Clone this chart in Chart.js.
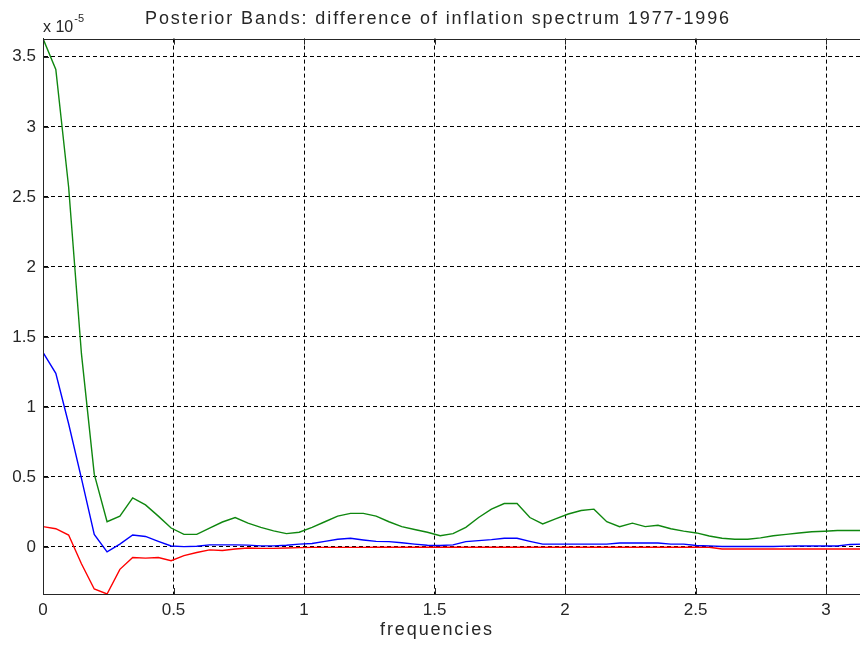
<!DOCTYPE html>
<html>
<head>
<meta charset="utf-8">
<title>Posterior Bands</title>
<script src="https://cdn.jsdelivr.net/npm/chart.js@4.4.1/dist/chart.umd.min.js"></script>
<style>
  html, body { margin: 0; padding: 0; background: #fff; overflow: hidden; }
  #wrap { width: 866px; height: 660px; }
</style>
</head>
<body>
<div id="wrap"><canvas id="bandsChart" width="866" height="660"></canvas></div>
<script>
// Posterior bands of the spectrum difference, in units of 1e-5,
// one value per frequency k*pi/64, k = 0..64
const upperBand = [
  3.63, 3.41, 2.57, 1.38, 0.52, 0.18, 0.22, 0.35, 0.30, 0.22,
  0.135, 0.09, 0.09, 0.135, 0.178, 0.21, 0.17, 0.14, 0.115, 0.095,
  0.105, 0.14, 0.18, 0.22, 0.24, 0.24, 0.22, 0.18, 0.145, 0.125,
  0.105, 0.08, 0.095, 0.14, 0.21, 0.27, 0.31, 0.31, 0.21, 0.164,
  0.20, 0.235, 0.26, 0.27, 0.18, 0.145, 0.17, 0.145, 0.155, 0.13,
  0.113, 0.10, 0.078, 0.062, 0.055, 0.055, 0.065, 0.08, 0.09, 0.10,
  0.108, 0.112, 0.117, 0.117, 0.117
];
const medianBand = [
  1.39, 1.24, 0.88, 0.49, 0.09, -0.035, 0.02, 0.085, 0.075, 0.04,
  0.007, 0.002, 0.005, 0.015, 0.015, 0.015, 0.013, 0.008, 0.008, 0.012,
  0.02, 0.025, 0.04, 0.055, 0.062, 0.05, 0.04, 0.038, 0.03, 0.02,
  0.012, 0.01, 0.015, 0.038, 0.045, 0.052, 0.062, 0.062, 0.04, 0.02,
  0.02, 0.02, 0.02, 0.02, 0.02, 0.028, 0.028, 0.028, 0.028, 0.02,
  0.02, 0.01, 0.008, 0.003, 0.003, 0.003, 0.003, 0.003, 0.006, 0.007,
  0.007, 0.007, 0.007, 0.018, 0.02
];
const lowerBand = [
  0.145, 0.13, 0.085, -0.12, -0.30, -0.336, -0.16, -0.075, -0.08, -0.075,
  -0.098, -0.062, -0.04, -0.021, -0.025, -0.015, -0.008, -0.01, -0.01, -0.008,
  -0.005, -0.003, -0.003, -0.003, -0.003, -0.003, -0.002, -0.002, -0.002, -0.002,
  -0.002, -0.002, -0.002, -0.002, -0.002, -0.002, -0.002, -0.002, -0.002, -0.002,
  -0.002, -0.002, -0.002, -0.002, -0.002, -0.002, -0.002, -0.002, -0.002, -0.002,
  -0.002, -0.002, -0.002, -0.015, -0.015, -0.015, -0.015, -0.015, -0.015, -0.015,
  -0.015, -0.015, -0.015, -0.015, -0.015
];

const xTicks = [0, 0.5, 1, 1.5, 2, 2.5, 3];
const yTicks = [0, 0.5, 1, 1.5, 2, 2.5, 3, 3.5];
const yExponent = "-5";
const titleText = "Posterior Bands: difference of inflation spectrum 1977-1996";
const xLabel = "frequencies";

const fontName = '"Liberation Sans", Arial, sans-serif';
const inkColor = "#262626";

// frequency grid 0..pi
const freqs = upperBand.map((_, k) => k * Math.PI / (upperBand.length - 1));

function toPoints(band) {
    return band.map((v, i) => ({x: freqs[i], y: v}));
}

function makeBand(band, color) {
    return {
        data: toPoints(band),
        borderColor: color,
        borderWidth: 1.4,
        pointRadius: 0,
        tension: 0,
        fill: false
    };
}

// spaced-out text, like the old figure window renders it
function wideText(ctx, text, x, y, size) {
    ctx.font = size + "px " + fontName;
    ctx.letterSpacing = "1.9px";
    ctx.textAlign = "center";
    ctx.textBaseline = "middle";
    ctx.fillText(text, x, y);
    ctx.letterSpacing = "0px";
}

// box round the axes, inward ticks, title, axis label and the "x 10^-5" multiplier
const matlabAxes = {
    id: "matlabAxes",
    afterDraw(chart) {
        const ctx = chart.ctx;
        const a = chart.chartArea;
        const x = chart.scales.x;
        const y = chart.scales.y;
        ctx.save();
        ctx.setLineDash([]);
        ctx.strokeStyle = inkColor;
        ctx.lineWidth = 1;
        ctx.strokeRect(Math.round(a.left) + 0.5, Math.round(a.top) + 0.5,
            Math.round(a.right - a.left), Math.round(a.bottom - a.top));

        ctx.beginPath();
        xTicks.forEach(v => {
            const px = Math.round(x.getPixelForValue(v)) + 0.5;
            ctx.moveTo(px, a.bottom);
            ctx.lineTo(px, a.bottom - 6);
            ctx.moveTo(px, a.top);
            ctx.lineTo(px, a.top + 6);
        });
        yTicks.forEach(v => {
            const py = Math.round(y.getPixelForValue(v)) + 0.5;
            ctx.moveTo(a.left, py);
            ctx.lineTo(a.left + 6, py);
        });
        ctx.stroke();

        ctx.fillStyle = inkColor;
        ctx.textBaseline = "alphabetic";
        ctx.textAlign = "left";
        ctx.font = "16px " + fontName;
        ctx.fillText("x 10", a.left, 32);
        const w = ctx.measureText("x 10").width;
        ctx.font = "11px " + fontName;
        ctx.fillText(yExponent, a.left + w + 1, 22);

        wideText(ctx, titleText, 438, 19, 18);
        wideText(ctx, xLabel, 437, 630, 18);
        ctx.restore();
    }
};

const ctxChart = document.getElementById("bandsChart").getContext("2d");
const bandsChart = new Chart(ctxChart, {
    type: "line",
    data: {
        datasets: [
            makeBand(upperBand, "#0f870f"),
            makeBand(medianBand, "#0000ff"),
            makeBand(lowerBand, "#ff0000")
        ]
    },
    options: {
        responsive: false,
        animation: false,
        layout: {padding: {left: 0, right: 3, top: 38.6, bottom: 0}},
        plugins: {
            legend: {display: false},
            tooltip: {enabled: false},
            title: {display: false}
        },
        scales: {
            x: {
                type: "linear",
                min: 0,
                max: Math.PI,
                afterBuildTicks: scale => { scale.ticks = xTicks.map(v => ({value: v})); },
                afterFit: scale => { scale.height = 66; },
                ticks: {
                    color: inkColor,
                    font: {family: fontName, size: 17},
                    padding: 6,
                    autoSkip: false,
                    maxRotation: 0,
                    callback: v => String(v)
                },
                grid: {color: "#000", lineWidth: 1, drawTicks: false},
                border: {display: true, color: inkColor, dash: [4, 3]}
            },
            y: {
                type: "linear",
                min: Math.min(...lowerBand),
                max: Math.max(...upperBand),
                afterBuildTicks: scale => { scale.ticks = yTicks.map(v => ({value: v})); },
                afterFit: scale => { scale.width = 43; },
                ticks: {
                    color: inkColor,
                    font: {family: fontName, size: 17},
                    padding: 7,
                    callback: v => String(v)
                },
                grid: {color: "#000", lineWidth: 1, drawTicks: false},
                border: {display: true, color: inkColor, dash: [4, 3]}
            }
        }
    },
    plugins: [matlabAxes]
});
</script>
</body>
</html>
